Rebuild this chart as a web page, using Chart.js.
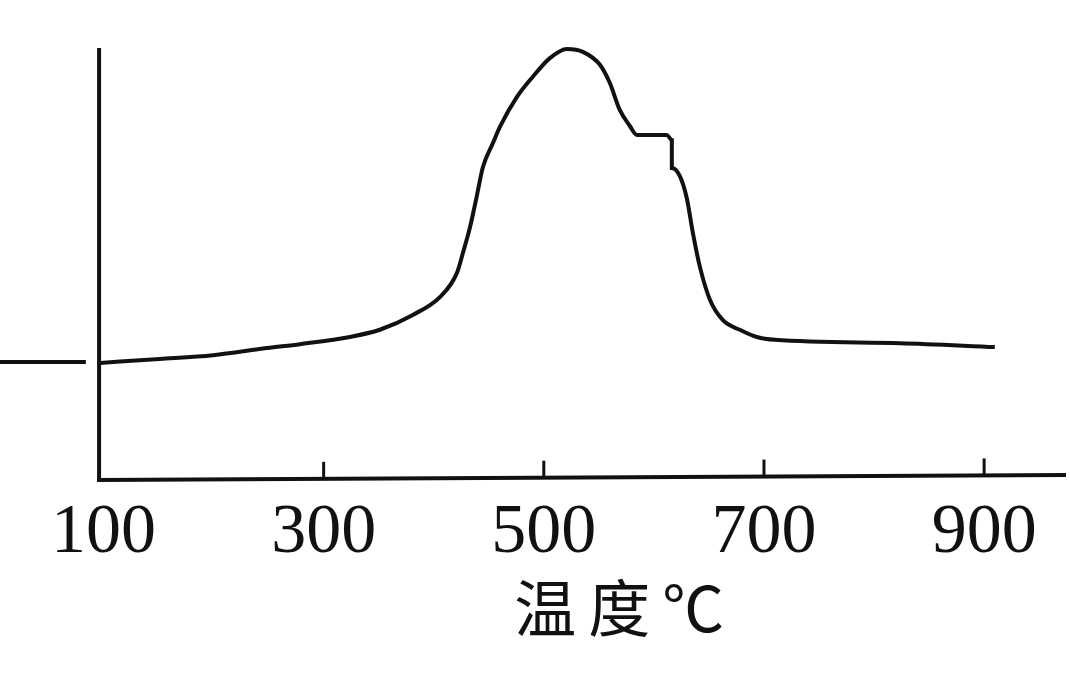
<!DOCTYPE html>
<html>
<head>
<meta charset="utf-8">
<script src="https://cdn.jsdelivr.net/npm/chart.js@4/dist/chart.umd.min.js"></script>
<style>
  html, body { margin: 0; padding: 0; background: #fff; }
  #wrap { width: 1070px; height: 691px; position: relative; }
</style>
</head>
<body>
<div id="wrap"><canvas id="chart"></canvas></div>
<script>
// temperature (°C) and relative signal
const stubTemps = [6, 84];
const stubSignal = [24.6, 24.6];

const curveTemps = [97, 151, 199.5, 248.5, 278.5, 324, 351, 381, 405.6, 421, 426.5, 433, 439, 444.7,
  453.8, 460, 475.6, 490, 505.5, 521, 535.5, 551, 560, 569, 578, 584.6, 611.8, 616.3, 616.3, 623.6,
  630, 635.4, 641.8, 651, 662.7, 678, 693.6, 710, 823.4, 909.7];
const curveSignal = [24.4, 25.2, 26.0, 27.5, 28.3, 29.8, 31.3, 34.4, 38.1, 43.1, 47.3, 52.7, 59.0, 65.2,
  70.2, 73.5, 79.8, 84.0, 87.9, 89.8, 89.2, 86.5, 82.7, 77.1, 73.8, 71.9, 71.9, 70.8, 65.0, 63.3,
  58.6, 51.5, 44.4, 37.5, 33.3, 31.3, 29.8, 29.2, 28.5, 27.7];

const tickValues = [100, 300, 500, 700, 900];
const axisTitle = '温度℃';
const yAxisAt = 96;   // where the vertical axis crosses the temperature scale
const yAxisTop = 90;

const toPoints = (xs, ys) => xs.map((x, i) => ({ x: x, y: ys[i] }));

// draws the hand-style axes, inward ticks and the axis caption
const framePlugin = {
  id: 'frame',
  afterDatasetsDraw(chart) {
    const ctx = chart.ctx;
    const xs = chart.scales.x;
    const ys = chart.scales.y;
    const x0 = xs.getPixelForValue(yAxisAt);
    const yBase = ys.getPixelForValue(0);
    ctx.save();
    ctx.strokeStyle = '#111';
    ctx.lineCap = 'butt';
    ctx.lineWidth = 4;
    ctx.beginPath();
    ctx.moveTo(x0, ys.getPixelForValue(yAxisTop));
    ctx.lineTo(x0, yBase + 2);
    ctx.stroke();
    ctx.beginPath();
    ctx.moveTo(x0 - 2, yBase);
    ctx.lineTo(chart.width - 4, yBase - 5);
    ctx.stroke();
    ctx.lineWidth = 3;
    tickValues.slice(1).forEach(v => {
      const px = xs.getPixelForValue(v);
      const off = (px - x0) / (chart.width - 4 - x0) * 5;
      ctx.beginPath();
      ctx.moveTo(px, yBase - off);
      ctx.lineTo(px, yBase - off - 17);
      ctx.stroke();
    });
    ctx.fillStyle = '#111';
    ctx.font = '62px "Noto Sans CJK SC"';
    ctx.letterSpacing = '12px';
    ctx.textAlign = 'center';
    ctx.textBaseline = 'middle';
    ctx.fillText(axisTitle, xs.getPixelForValue(574), 608);
    ctx.restore();
  }
};

new Chart(document.getElementById('chart'), {
  type: 'line',
  data: {
    datasets: [{
      data: toPoints(stubTemps, stubSignal),
      borderColor: '#111',
      borderWidth: 4,
      pointRadius: 0
    }, {
      data: toPoints(curveTemps, curveSignal),
      borderColor: '#111',
      borderWidth: 4,
      pointRadius: 0,
      cubicInterpolationMode: 'monotone'
    }]
  },
  options: {
    responsive: true,
    maintainAspectRatio: false,
    animation: false,
    layout: { padding: 0 },
    plugins: {
      legend: { display: false },
      tooltip: { enabled: false }
    },
    scales: {
      x: {
        type: 'linear',
        min: 6,
        max: 978,
        grid: { display: false, drawTicks: false },
        border: { display: false },
        afterBuildTicks: scale => {
          scale.ticks = tickValues.map(v => ({ value: v }));
        },
        afterFit: scale => {
          scale.height = 211;
        },
        ticks: {
          color: '#111',
          padding: 12,
          maxRotation: 0,
          autoSkip: false,
          font: { family: '"Liberation Serif", serif', size: 70 }
        }
      },
      y: {
        display: false,
        min: 0,
        max: 100
      }
    }
  },
  plugins: [framePlugin]
});
</script>
</body>
</html>
